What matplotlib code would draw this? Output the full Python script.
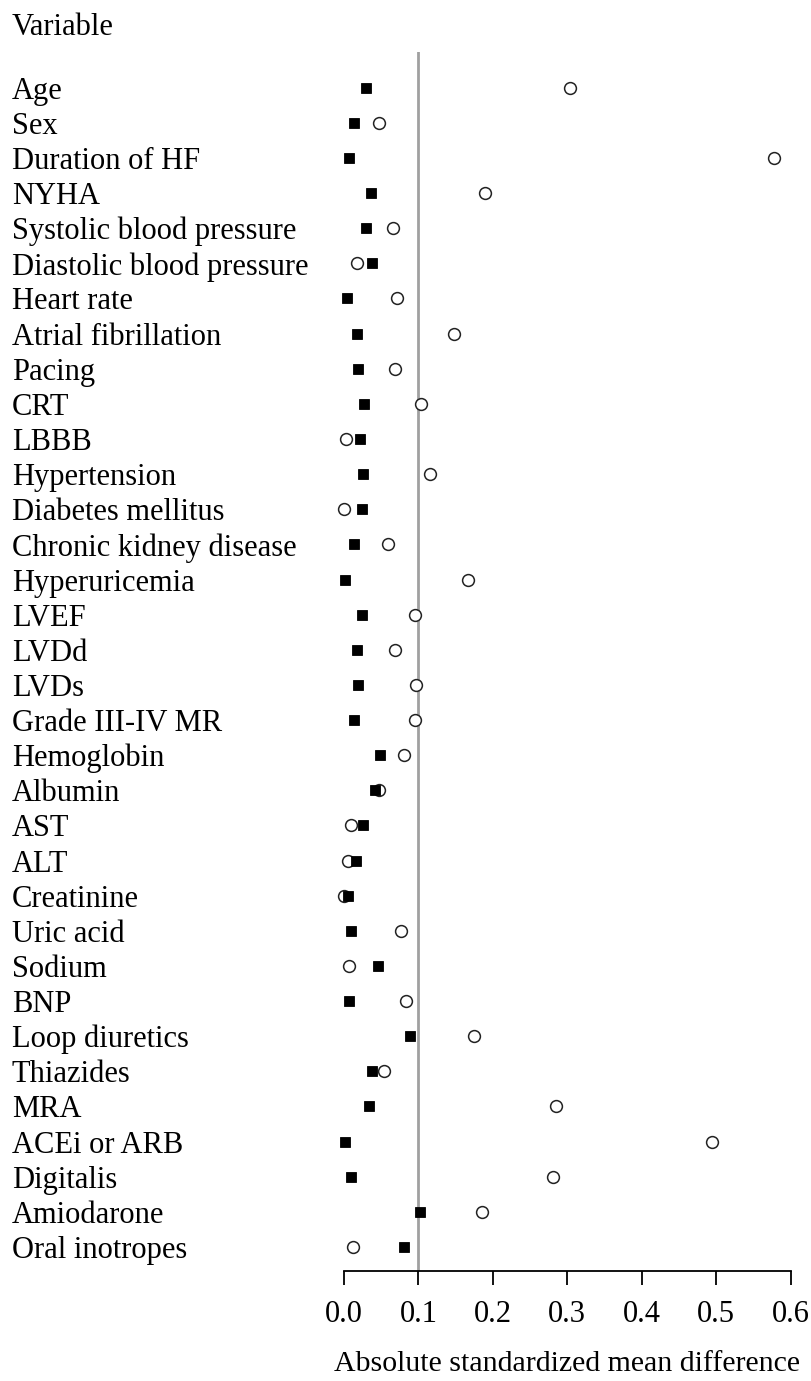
"""
Love plot: absolute standardized mean difference before / after matching.
"""
import matplotlib

matplotlib.use("Agg")
import matplotlib.pyplot as plt
import matplotlib.transforms as mtransforms

plt.rcParams["font.family"] = ["Liberation Serif", "DejaVu Serif"]

variables = [
    "Age", "Sex", "Duration of HF", "NYHA", "Systolic blood pressure",
    "Diastolic blood pressure", "Heart rate", "Atrial fibrillation", "Pacing",
    "CRT", "LBBB", "Hypertension", "Diabetes mellitus", "Chronic kidney disease",
    "Hyperuricemia", "LVEF", "LVDd", "LVDs", "Grade III-IV MR", "Hemoglobin",
    "Albumin", "AST", "ALT", "Creatinine", "Uric acid", "Sodium", "BNP",
    "Loop diuretics", "Thiazides", "MRA", "ACEi or ARB", "Digitalis",
    "Amiodarone", "Oral inotropes",
]

# open circles: unmatched sample
smd_before = [
    0.303, 0.047, 0.578, 0.189, 0.066, 0.017, 0.071, 0.148, 0.068, 0.104,
    0.003, 0.115, 0.000, 0.059, 0.166, 0.095, 0.069, 0.097, 0.096, 0.081,
    0.047, 0.010, 0.006, 0.000, 0.077, 0.007, 0.083, 0.175, 0.054, 0.285,
    0.494, 0.281, 0.186, 0.012,
]
# filled squares: matched sample
smd_after = [
    0.030, 0.013, 0.007, 0.036, 0.030, 0.037, 0.004, 0.017, 0.019, 0.027,
    0.021, 0.025, 0.024, 0.013, 0.002, 0.024, 0.017, 0.019, 0.013, 0.049,
    0.042, 0.026, 0.016, 0.006, 0.010, 0.045, 0.007, 0.089, 0.038, 0.033,
    0.001, 0.010, 0.102, 0.080,
]

x_ticks = [0.0, 0.1, 0.2, 0.3, 0.4, 0.5, 0.6]
threshold = 0.1
FS = 22

W, H = 812, 1381
fig = plt.figure(figsize=(W / 100, H / 100), dpi=100)
ax = fig.add_axes([344 / W, 1 - 1271 / H, (790.7 - 344) / W, (1271 - 51.7) / H])

n = len(variables)
ypos = list(range(n, 0, -1))

ax.axvline(threshold, color="#a0a0a0", lw=2, zorder=1)
ax.plot(smd_before, ypos, "o", ms=8.5, mfc="white", mec="#222222", mew=1.1,
        ls="none", clip_on=False, zorder=3)
ax.plot(smd_after, ypos, "s", ms=7.4, mfc="black", mec="black", mew=0.6,
        ls="none", clip_on=False, zorder=4)

ax.set_xlim(0, 0.6)
ax.set_ylim(1 - 0.683, n + 1.025)

for side in ("top", "right", "left"):
    ax.spines[side].set_visible(False)
ax.spines["bottom"].set_linewidth(1.3)
ax.set_yticks([])
ax.set_xticks(x_ticks)
ax.set_xticklabels([f"{t:.1f}" for t in x_ticks], fontsize=FS)
ax.tick_params(axis="x", length=10, width=1.3, pad=11)
ax.set_xlabel("Absolute standardized mean difference", fontsize=21.5, labelpad=16)

trans = mtransforms.blended_transform_factory(fig.transFigure, ax.transData)
for name, y in zip(variables, ypos):
    ax.text(12 / W, y, name, transform=trans, ha="left", va="center_baseline",
            fontsize=FS)

fig.text(12 / W, 1 - 24 / H, "Variable", ha="left", va="center_baseline", fontsize=FS)

fig.savefig("out.png", dpi=100)
